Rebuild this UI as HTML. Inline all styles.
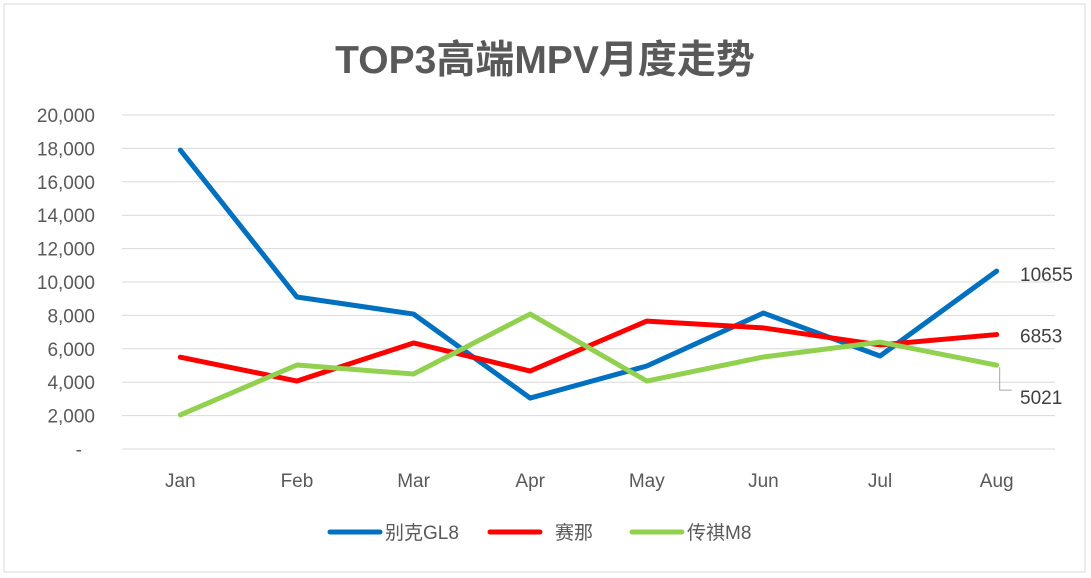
<!DOCTYPE html>
<html><head><meta charset="utf-8"><style>
body{margin:0;background:#fff;}
svg{display:block;font-family:"Liberation Sans","Noto Sans CJK SC",sans-serif;}
</style></head><body>
<svg id="chart" width="1091" height="578">
<rect x="4" y="4" width="1081" height="568" fill="#fff" stroke="#d9d9d9"/>
<text x="545" y="73" text-anchor="middle" font-size="39" font-weight="bold" fill="#595959">TOP3高端MPV月度走势</text>
<g id="grid"></g><g id="yt"></g><g id="xt"></g><g id="lines"></g><g id="labels"></g>
<g id="legend"></g>
</svg>
<script>
const categories=["Jan","Feb","Mar","Apr","May","Jun","Jul","Aug"];
const seriesNames=["别克GL8","赛那","传祺M8"];
const gl8=[17900,9100,8080,3050,4970,8140,5570,10655];
const sienna=[5500,4070,6350,4670,7660,7250,6230,6853];
const m8=[2040,5030,4490,8080,4070,5510,6400,5021];
const yTicks=[0,2000,4000,6000,8000,10000,12000,14000,16000,18000,20000];
const yTickLabels=["-","2,000","4,000","6,000","8,000","10,000","12,000","14,000","16,000","18,000","20,000"];
const colors=["#0070c0","#ff0000","#92d050"];
const NS="http://www.w3.org/2000/svg";
const x0=122,x1=1055,yb=449,yt=115;
const y=v=>yb-(v/20000)*(yb-yt);
const step=(x1-x0)/categories.length;
const x=i=>x0+step*(i+0.5);
function mk(t,a,p){const e=document.createElementNS(NS,t);for(const k in a)e.setAttribute(k,a[k]);p.appendChild(e);return e;}
const G=document.getElementById('grid'),YT=document.getElementById('yt'),XT=document.getElementById('xt'),L=document.getElementById('lines'),LB=document.getElementById('labels'),LG=document.getElementById('legend');
yTicks.forEach((v,i)=>{
 const g=mk('line',{x1:x0,x2:x1,y1:y(v),y2:y(v),stroke:'#d9d9d9','stroke-width':1},G);
 
 
 const t=mk('text',{x:i==0?82:95,y:y(v)+7,'text-anchor':'end','font-size':19,fill:'#595959'},YT);
 t.textContent=yTickLabels[i];
 
 
});
categories.forEach((c,i)=>{
 const t=mk('text',{x:x(i),y:487,'text-anchor':'middle','font-size':19,fill:'#595959'},XT);
 t.textContent=c;
 
 
});
[gl8,sienna,m8].forEach((s,si)=>{
 const p=mk('polyline',{points:s.map((v,i)=>x(i)+','+y(v)).join(' '),fill:'none',stroke:colors[si],'stroke-width':5,'stroke-linejoin':'round','stroke-linecap':'round'},L);
 
 
 const last=s[s.length-1],ly=si==0?y(last)+3:si==1?y(last)+1:y(last)+32;
 if(si==2){const ll=mk('polyline',{points:(x(7)+3)+','+(y(last)+2)+' '+(x(7)+3)+','+(ly-7)+' '+(x(7)+15)+','+(ly-7),fill:'none',stroke:'#a6a6a6','stroke-width':1},LB);
  
  }
 const t=mk('text',{x:1020,y:ly+7,'font-size':19,fill:'#404040'},LB);
 t.textContent=String(last);
 
 
});
const lx=[330,490,632];
seriesNames.forEach((n,i)=>{
 const l=mk('line',{x1:lx[i],x2:lx[i]+50,y1:532,y2:532,stroke:colors[i],'stroke-width':5,'stroke-linecap':'round'},LG);
 
 
 const t=mk('text',{x:lx[i]+(i==1?65:55),y:539,'font-size':19,fill:'#595959'},LG);
 t.textContent=n;
 
 
});
</script>
</body></html>
